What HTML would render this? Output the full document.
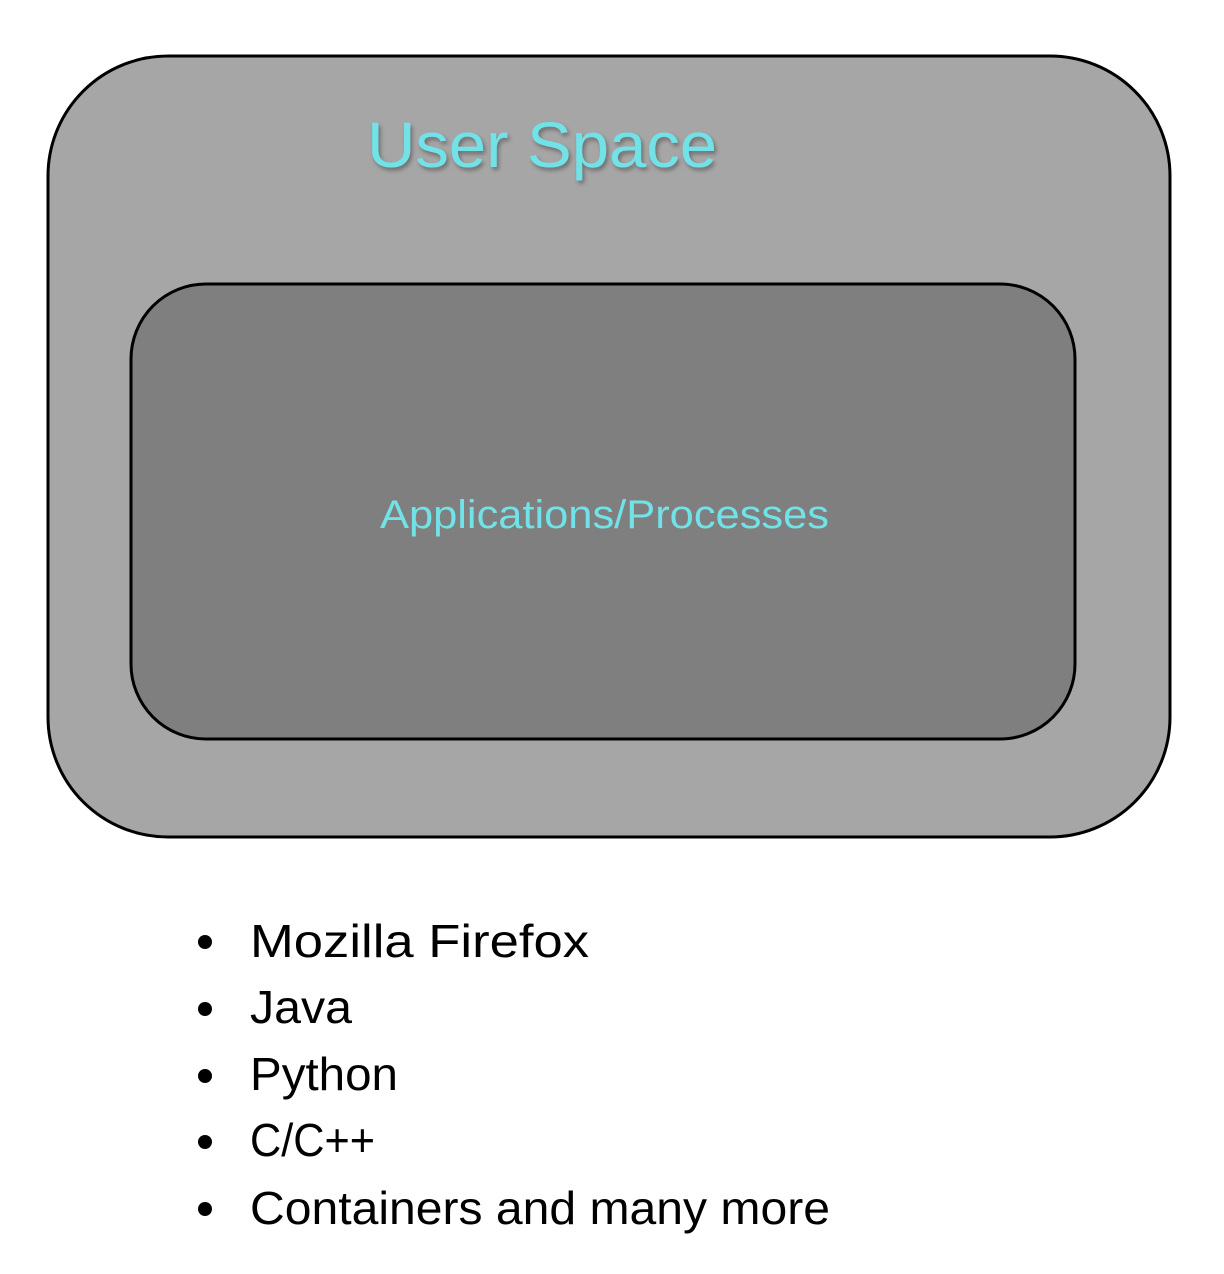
<!DOCTYPE html>
<html><head><meta charset="utf-8"><style>
html,body{margin:0;padding:0;background:#fff;}
svg{display:block;}
</style></head><body>
<svg width="1224" height="1274" viewBox="0 0 1224 1274" xmlns="http://www.w3.org/2000/svg">
<defs>
<filter id="sh" x="-10%" y="-10%" width="120%" height="140%">
<feDropShadow dx="2" dy="3" stdDeviation="2" flood-color="#000" flood-opacity="0.35"/>
</filter>
</defs>
<rect x="48" y="56" width="1122" height="781" rx="120" ry="120" fill="#a6a6a6" stroke="#000" stroke-width="3"/>
<rect x="131" y="284" width="944" height="455" rx="75" ry="75" fill="#7f7f7f" stroke="#000" stroke-width="3"/>
<text x="367" y="167" font-family="Liberation Sans, sans-serif" font-size="64" fill="#70e2e8" textLength="350" lengthAdjust="spacingAndGlyphs" filter="url(#sh)">User Space</text>
<text x="380" y="528" font-family="Liberation Sans, sans-serif" font-size="40" fill="#70e2e8" textLength="449" lengthAdjust="spacingAndGlyphs">Applications/Processes</text>
<g font-family="Liberation Sans, sans-serif" font-size="46" fill="#000">
<circle cx="205" cy="942" r="7"/>
<text x="250" y="957" textLength="339" lengthAdjust="spacingAndGlyphs">Mozilla Firefox</text>
<circle cx="205" cy="1009" r="7"/>
<text x="250" y="1023" textLength="102" lengthAdjust="spacingAndGlyphs">Java</text>
<circle cx="205" cy="1076" r="7"/>
<text x="250" y="1090" textLength="148" lengthAdjust="spacingAndGlyphs">Python</text>
<circle cx="205" cy="1142" r="7"/>
<text x="250" y="1156" textLength="125" lengthAdjust="spacingAndGlyphs">C/C++</text>
<circle cx="205" cy="1209" r="7"/>
<text x="250" y="1224" textLength="580" lengthAdjust="spacingAndGlyphs">Containers and many more</text>
</g>
</svg>
</body></html>
